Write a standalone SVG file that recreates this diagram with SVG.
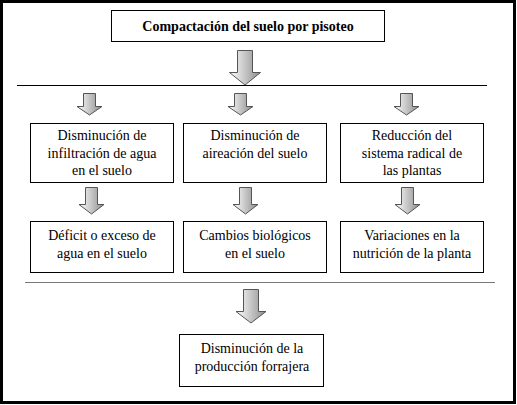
<svg xmlns="http://www.w3.org/2000/svg" width="517" height="405" viewBox="0 0 517 405">
<defs>
<linearGradient id="g" x1="0" y1="0" x2="1" y2="0">
<stop offset="0" stop-color="#ffffff"/>
<stop offset="1" stop-color="#8c8c8c"/>
</linearGradient>
<style>
.box{fill:#fff;stroke:#000;stroke-width:1}
.arr{fill:url(#g);stroke:#555;stroke-width:1}
</style>
</defs>
<rect x="1.5" y="1.5" width="513" height="401" fill="#fff" stroke="#000" stroke-width="3"/>
<g id="connectors">
<line x1="17" y1="85.5" x2="487" y2="85.5" stroke="#000" stroke-width="1"/>
<line x1="25" y1="282.5" x2="495" y2="282.5" stroke="#777" stroke-width="1"/>
<path class="arr" d="M237.5,50.5 H252.5 V72.5 H260.5 L245,85 L229.5,72.5 H237.5 Z"/>
<path class="arr" d="M83.5,93.5 H95.5 V106.5 H102 L89.5,115 L77,106.5 H83.5 Z"/>
<path class="arr" d="M234.5,93.5 H246.5 V106.5 H253 L240.5,115 L228,106.5 H234.5 Z"/>
<path class="arr" d="M400.5,93.5 H412.5 V106.5 H419 L406.5,115 L394,106.5 H400.5 Z"/>
<path class="arr" d="M85.5,187.5 H97.5 V204.5 H104 L91.5,214 L79,204.5 H85.5 Z"/>
<path class="arr" d="M239.5,187.5 H251.5 V204.5 H258 L245.5,214 L233,204.5 H239.5 Z"/>
<path class="arr" d="M401.5,187.5 H413.5 V204.5 H420 L407.5,214 L395,204.5 H401.5 Z"/>
<path class="arr" d="M243.5,289.5 H258.5 V311.5 H266 L251,323 L236,311.5 H243.5 Z"/>
</g>
<g id="n0">
<rect class="box" x="111.5" y="10.5" width="273" height="31"/>
<text x="248" y="31" font-family="Liberation Serif, Times New Roman, serif" font-size="14" font-weight="bold" text-anchor="middle">Compactación del suelo por pisoteo</text>
</g>
<g id="n1">
<rect class="box" x="30.5" y="123.5" width="143" height="59"/>
<text x="102" y="140" font-family="Liberation Serif, Times New Roman, serif" font-size="14" text-anchor="middle">Disminución de</text>
<text x="102" y="158" font-family="Liberation Serif, Times New Roman, serif" font-size="14" text-anchor="middle">infiltración de agua</text>
<text x="102" y="175" font-family="Liberation Serif, Times New Roman, serif" font-size="14" text-anchor="middle">en el suelo</text>
</g>
<g id="n2">
<rect class="box" x="183.5" y="123.5" width="143" height="59"/>
<text x="255" y="140" font-family="Liberation Serif, Times New Roman, serif" font-size="14" text-anchor="middle">Disminución de</text>
<text x="255" y="158" font-family="Liberation Serif, Times New Roman, serif" font-size="14" text-anchor="middle">aireación del suelo</text>
</g>
<g id="n3">
<rect class="box" x="340.5" y="123.5" width="143" height="59"/>
<text x="412" y="140" font-family="Liberation Serif, Times New Roman, serif" font-size="14" text-anchor="middle">Reducción del</text>
<text x="412" y="158" font-family="Liberation Serif, Times New Roman, serif" font-size="14" text-anchor="middle">sistema radical de</text>
<text x="412" y="175" font-family="Liberation Serif, Times New Roman, serif" font-size="14" text-anchor="middle">las plantas</text>
</g>
<g id="n4">
<rect class="box" x="30.5" y="221.5" width="143" height="51"/>
<text x="102" y="240" font-family="Liberation Serif, Times New Roman, serif" font-size="14" text-anchor="middle">Déficit o exceso de</text>
<text x="102" y="258" font-family="Liberation Serif, Times New Roman, serif" font-size="14" text-anchor="middle">agua en el suelo</text>
</g>
<g id="n5">
<rect class="box" x="183.5" y="221.5" width="143" height="51"/>
<text x="255" y="240" font-family="Liberation Serif, Times New Roman, serif" font-size="14" text-anchor="middle">Cambios biológicos</text>
<text x="255" y="258" font-family="Liberation Serif, Times New Roman, serif" font-size="14" text-anchor="middle">en el suelo</text>
</g>
<g id="n6">
<rect class="box" x="340.5" y="221.5" width="143" height="51"/>
<text x="412" y="240" font-family="Liberation Serif, Times New Roman, serif" font-size="14" text-anchor="middle">Variaciones en la</text>
<text x="412" y="258" font-family="Liberation Serif, Times New Roman, serif" font-size="14" text-anchor="middle">nutrición de la planta</text>
</g>
<g id="n7">
<rect class="box" x="179.5" y="334.5" width="144" height="52"/>
<text x="252" y="353" font-family="Liberation Serif, Times New Roman, serif" font-size="14" text-anchor="middle">Disminución de la</text>
<text x="252" y="371" font-family="Liberation Serif, Times New Roman, serif" font-size="14" text-anchor="middle">producción forrajera</text>
</g>
</svg>
